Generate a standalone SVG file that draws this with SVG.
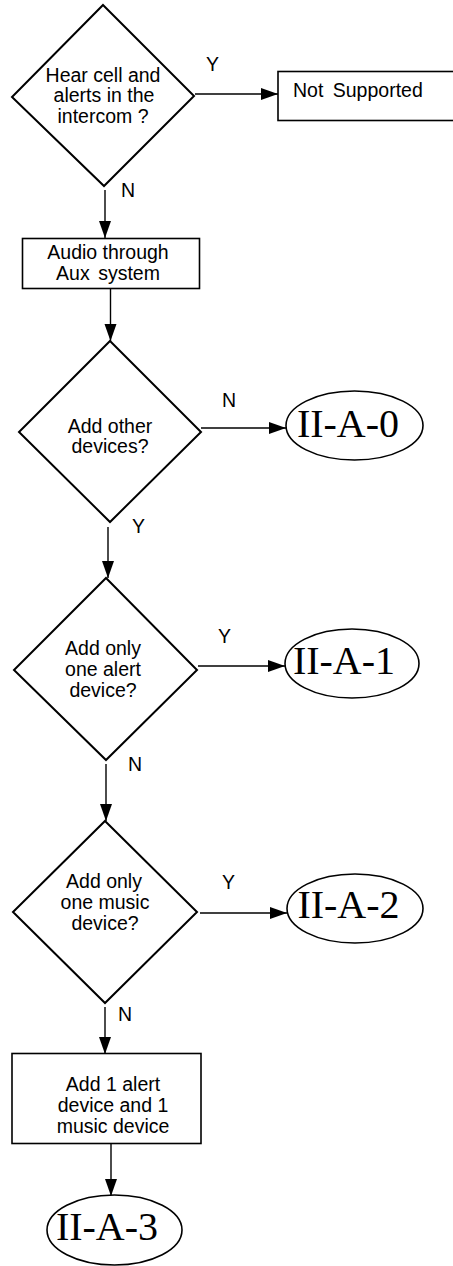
<svg xmlns="http://www.w3.org/2000/svg" width="453" height="1266" viewBox="0 0 453 1266">
<style>
.shape{fill:#fff;stroke:#000;stroke-width:2}
.box{fill:#fff;stroke:#000;stroke-width:1.6}
.conn{fill:none;stroke:#000;stroke-width:1.4}
.t{font-family:"Liberation Sans",Arial,sans-serif;font-size:19.5px;fill:#000;text-anchor:middle}
.lbl{font-family:"Liberation Sans",Arial,sans-serif;font-size:19.5px;fill:#000}
.ref{font-family:"Liberation Serif","Times New Roman",serif;font-size:40px;fill:#000;text-anchor:middle}
</style>
<defs>
<marker id="arr" markerUnits="userSpaceOnUse" markerWidth="18" markerHeight="13" refX="17" refY="6" orient="auto">
<path d="M0,0 L17,6 L0,12 z" fill="#000"/>
</marker>
</defs>
<rect width="453" height="1266" fill="#fff"/>
<g id="connectors">
<path class="conn" d="M195,94 H278" marker-end="url(#arr)"/>
<path class="conn" d="M105,190 V238" marker-end="url(#arr)"/>
<path class="conn" d="M110.5,288 V341" marker-end="url(#arr)"/>
<path class="conn" d="M201,428 H286" marker-end="url(#arr)"/>
<path class="conn" d="M108,527 V578" marker-end="url(#arr)"/>
<path class="conn" d="M198,666 H285" marker-end="url(#arr)"/>
<path class="conn" d="M106,764 V821" marker-end="url(#arr)"/>
<path class="conn" d="M200,913 H287" marker-end="url(#arr)"/>
<path class="conn" d="M105,1007 V1054" marker-end="url(#arr)"/>
<path class="conn" d="M111,1144 V1196" marker-end="url(#arr)"/>
<text class="lbl" x="206" y="71">Y</text>
<text class="lbl" x="121" y="197">N</text>
<text class="lbl" x="222" y="407">N</text>
<text class="lbl" x="132" y="533">Y</text>
<text class="lbl" x="218" y="643">Y</text>
<text class="lbl" x="128" y="771">N</text>
<text class="lbl" x="222" y="889">Y</text>
<text class="lbl" x="118" y="1021">N</text>
</g>
<g id="d1">
<polygon class="shape" points="103,5 194,96 104,186 12,97"/>
<text class="t" x="103" y="82">Hear cell and</text>
<text class="t" x="104" y="102">alerts in the</text>
<text class="t" x="103" y="123">intercom ?</text>
</g>
<g id="notsupported">
<rect class="box" x="278" y="71.5" width="190" height="49"/>
<text class="lbl" x="293" y="97" word-spacing="4">Not Supported</text>
</g>
<g id="aux">
<rect class="box" x="22.5" y="238.5" width="177" height="50"/>
<text class="t" x="108" y="259">Audio through</text>
<text class="t" x="108" y="280" word-spacing="3">Aux system</text>
</g>
<g id="d2">
<polygon class="shape" points="110,341 201,432 110,522 19,432"/>
<text class="t" x="110" y="433">Add other</text>
<text class="t" x="110" y="453">devices?</text>
</g>
<g id="a0">
<ellipse class="box" cx="354.5" cy="425.5" rx="68.5" ry="34.5"/>
<text class="ref" x="348" y="437">II-A-0</text>
</g>
<g id="d3">
<polygon class="shape" points="106,578 197,670 106,760 14,670"/>
<text class="t" x="103" y="655">Add only</text>
<text class="t" x="103" y="676">one alert</text>
<text class="t" x="103" y="697">device?</text>
</g>
<g id="a1">
<ellipse class="box" cx="352" cy="663.5" rx="67" ry="34.5"/>
<text class="ref" x="344" y="674">II-A-1</text>
</g>
<g id="d4">
<polygon class="shape" points="105,821 197,912 105,1003 13,912"/>
<text class="t" x="104" y="888">Add only</text>
<text class="t" x="105" y="909">one music</text>
<text class="t" x="105" y="930">device?</text>
</g>
<g id="a2">
<ellipse class="box" cx="355" cy="908.5" rx="68" ry="34.5"/>
<text class="ref" x="348.5" y="918">II-A-2</text>
</g>
<g id="both">
<rect class="box" x="12" y="1053.5" width="189" height="90"/>
<text class="t" x="113" y="1091">Add 1 alert</text>
<text class="t" x="113" y="1112">device and 1</text>
<text class="t" x="113" y="1133">music device</text>
</g>
<g id="a3">
<ellipse class="box" cx="114.5" cy="1230" rx="67.5" ry="35"/>
<text class="ref" x="107" y="1240">II-A-3</text>
</g>
</svg>
